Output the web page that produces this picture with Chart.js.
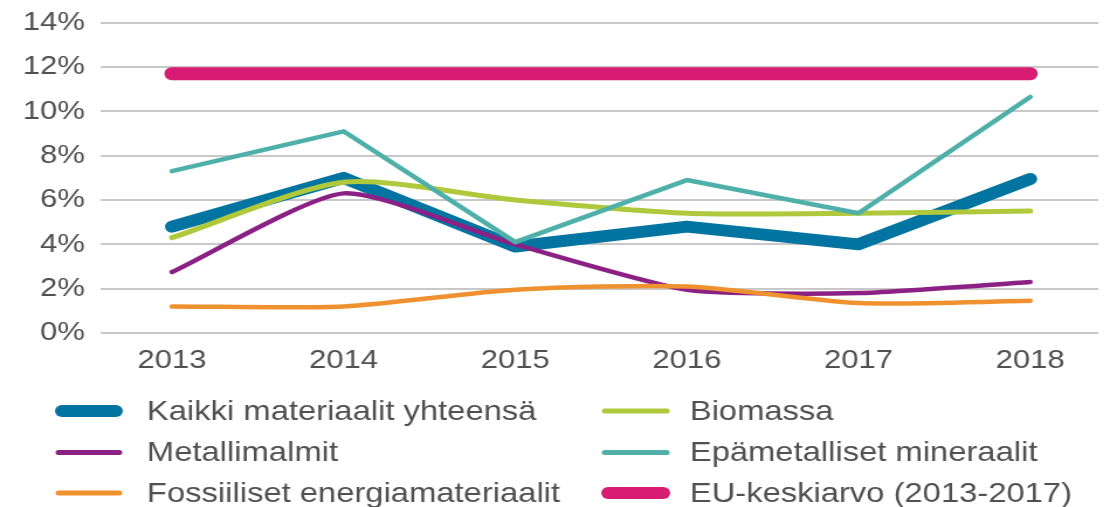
<!DOCTYPE html>
<html>
<head>
<meta charset="utf-8">
<script src="https://cdn.jsdelivr.net/npm/chart.js@4.4.0/dist/chart.umd.min.js"></script>
<style>
html,body{margin:0;padding:0;background:#fff;overflow:hidden;}
#wrap{position:absolute;left:0;top:0;width:949px;height:507px;transform:scaleX(1.16965);transform-origin:0 0;}
</style>
</head>
<body>
<div id="wrap"><canvas id="c"></canvas></div>
<script>
const years = [2013, 2014, 2015, 2016, 2017, 2018];
const yTicks = [0, 2, 4, 6, 8, 10, 12, 14];
const kaikki = [4.8, 7.0, 3.9, 4.8, 4.0, 6.95];
const biomassa = [4.3, 6.8, 6.0, 5.4, 5.4, 5.5];
const metallimalmit = [2.75, 6.3, 4.0, 1.95, 1.8, 2.3];
const epametalliset = [7.3, 9.1, 4.1, 6.9, 5.4, 10.65];
const fossiiliset = [1.2, 1.2, 1.95, 2.1, 1.35, 1.45];
const euKeskiarvo = [11.7, 11.7, 11.7, 11.7, 11.7, 11.7];
const seriesLabels = ['Kaikki materiaalit yhteensä', 'Biomassa', 'Metallimalmit', 'Epämetalliset mineraalit', 'Fossiiliset energiamateriaalit', 'EU-keskiarvo (2013-2017)'];

const pts = arr => arr.map((v, i) => ({x: years[i], y: v}));
const FONT = '"Liberation Sans", Arial, sans-serif';
const TXT = '#505050';

const legendPlugin = {
  id: 'gridLegend',
  afterDraw(chart) {
    const ctx = chart.ctx;
    const layout = [[0,0,0],[1,1,0],[2,0,1],[3,1,1],[4,0,2],[5,1,2]];
    const colX = [[53, 99, 125.6], [520, 567, 589.7]];
    const rowY = [411, 452.5, 493];
    ctx.save();
    layout.forEach(([di, c, r]) => {
      const ds = chart.data.datasets[di];
      const y = rowY[r];
      ctx.beginPath();
      ctx.strokeStyle = ds.borderColor;
      ctx.lineWidth = ds.legendWidth;
      ctx.lineCap = 'round';
      const inset = ds.legendWidth > 8 ? 0 : -3;
      ctx.moveTo(colX[c][0] + inset, y);
      ctx.lineTo(colX[c][1] - inset, y);
      ctx.stroke();
      ctx.fillStyle = TXT;
      ctx.font = '28px ' + FONT;
      ctx.textBaseline = 'middle';
      ctx.textAlign = 'left';
      ctx.fillText(ds.label, colX[c][2], y + 1);
    });
    ctx.restore();
  }
};

new Chart(document.getElementById('c'), {
  type: 'line',
  data: {
    datasets: [
      {label: seriesLabels[0], data: pts(kaikki), borderColor: '#0274a1', borderWidth: 12, tension: 0, borderCapStyle: 'round', borderJoinStyle: 'round', pointRadius: 0, order: 6, legendWidth: 12},
      {label: seriesLabels[1], data: pts(biomassa), borderColor: '#afc83c', borderWidth: 5, tension: 0.25, borderCapStyle: 'round', borderJoinStyle: 'round', pointRadius: 0, order: 4, legendWidth: 5},
      {label: seriesLabels[2], data: pts(metallimalmit), borderColor: '#8c2185', borderWidth: 4.5, tension: 0.2, borderCapStyle: 'round', borderJoinStyle: 'round', pointRadius: 0, order: 3, legendWidth: 5},
      {label: seriesLabels[3], data: pts(epametalliset), borderColor: '#4fb0aa', borderWidth: 4.5, tension: 0, borderCapStyle: 'round', borderJoinStyle: 'round', pointRadius: 0, order: 2, legendWidth: 5},
      {label: seriesLabels[4], data: pts(fossiiliset), borderColor: '#f0912f', borderWidth: 4.5, tension: 0.25, borderCapStyle: 'round', borderJoinStyle: 'round', pointRadius: 0, order: 1, legendWidth: 5},
      {label: seriesLabels[5], data: pts(euKeskiarvo), borderColor: '#d81b73', borderWidth: 13, tension: 0, borderCapStyle: 'round', borderJoinStyle: 'round', pointRadius: 0, order: 0, legendWidth: 12}
    ]
  },
  options: {
    responsive: true,
    maintainAspectRatio: false,
    animation: false,
    events: [],
    layout: {padding: {top: 22.7, right: 10, left: 0, bottom: 0}},
    plugins: {legend: {display: false}, tooltip: {enabled: false}},
    scales: {
      x: {
        type: 'linear',
        min: 2012.581,
        max: 2018.397,
        afterBuildTicks: s => { s.ticks = years.map(v => ({value: v})); },
        afterFit: s => { s.height = 174; s.paddingLeft = 0; s.paddingRight = 0; },
        grid: {display: false, drawTicks: false},
        border: {display: false},
        ticks: {color: TXT, font: {family: FONT, size: 26.5}, padding: 12, callback: v => String(v), maxRotation: 0, autoSkip: false}
      },
      y: {
        min: 0,
        max: 14,
        afterBuildTicks: s => { s.ticks = yTicks.map(v => ({value: v})); },
        afterFit: s => { s.width = 85.5; s.paddingTop = 0; s.paddingBottom = 0; },
        grid: {color: '#c8c8c8', lineWidth: 2, drawTicks: false},
        border: {display: false},
        ticks: {color: TXT, font: {family: FONT, size: 26.5}, padding: 13, callback: v => v + '%'}
      }
    }
  },
  plugins: [legendPlugin]
});
</script>
</body>
</html>
